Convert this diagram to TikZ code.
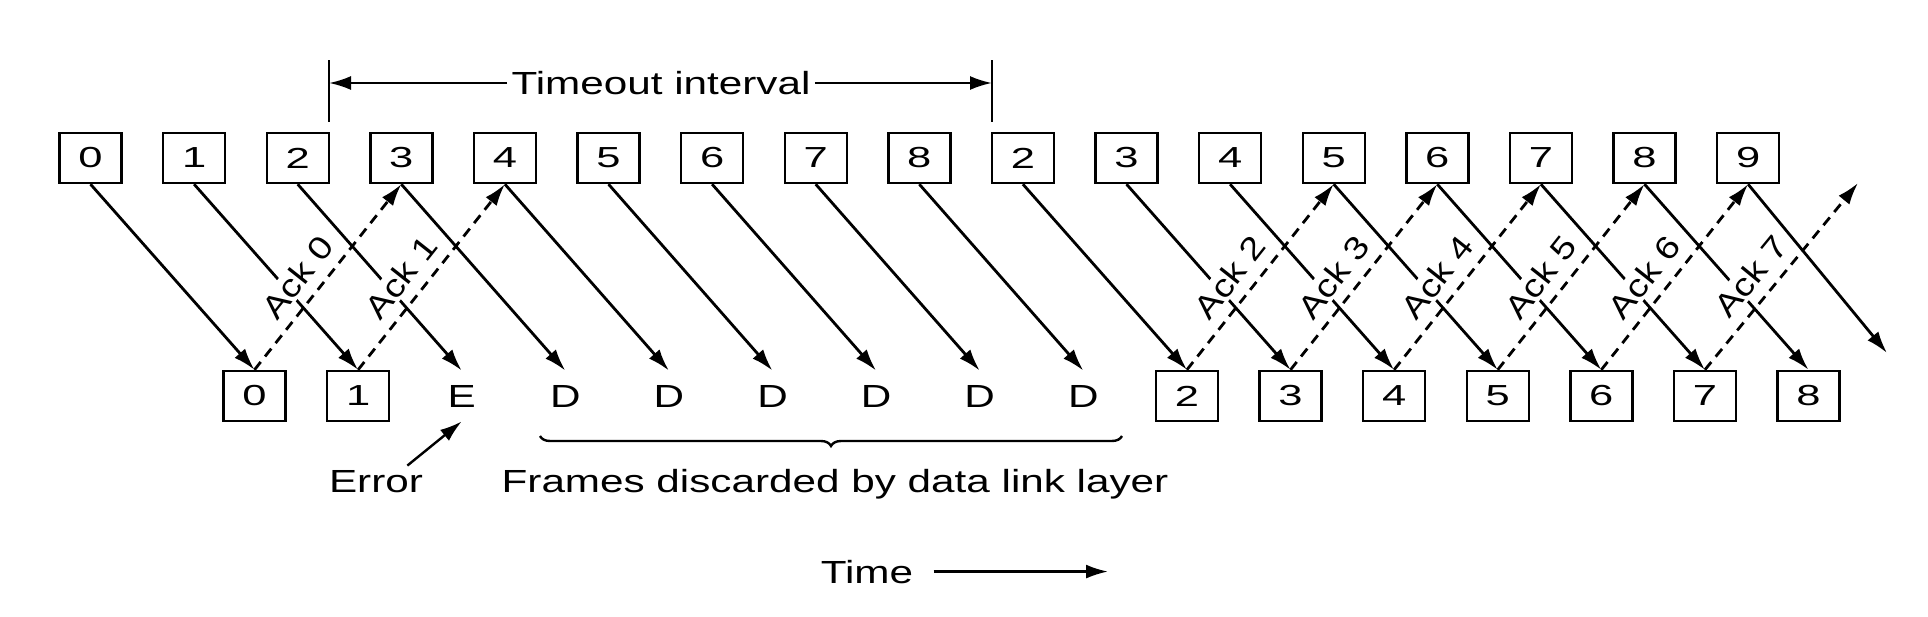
\documentclass[tikz,border=0pt]{standalone}
\usepackage{fontspec}
\setmainfont{Liberation Sans}
\newfontfamily\lblfont[FakeStretch=1.32]{Liberation Sans}
\newfontfamily\digfont[FakeStretch=1.5]{Liberation Sans}
\newfontfamily\ackfont[FakeStretch=1.18]{Liberation Sans}
\usetikzlibrary{arrows.meta,decorations.pathreplacing}
\begin{document}
\begin{tikzpicture}[x=0.5pt,y=-0.5pt,
  frame/.style={draw, line width=1.2pt, minimum width=31pt, minimum height=25pt, inner sep=0pt,
    font=\digfont\fontsize{14.5pt}{14.5pt}\selectfont},
  ghost/.style={minimum width=31pt, minimum height=25pt, inner sep=0pt,
    font=\lblfont\fontsize{16pt}{16pt}\selectfont},
  lbl/.style={font=\lblfont\fontsize{16pt}{16pt}\selectfont, inner sep=2pt},
  tip/.style={-{Latex[length=11pt,width=7pt]}},
  data/.style={line width=1.4pt, tip},
  ack/.style={data, dash pattern=on 5pt off 3.5pt},
  acklbl/.style={sloped, pos=0.42, yshift=12pt, fill=white, inner sep=1pt, solid,
    font=\ackfont\fontsize{16pt}{16pt}\selectfont},
  bar/.style={line width=1.2pt},
]
\useasboundingbox (0,0) rectangle (1928,616);

% top row (sender)
\foreach \l [count=\i from 0] in {0,1,2,3,4,5,6,7,8,2,3,4,5,6,7,8,9}
  \node[frame] (t\i) at ({90.5+103.6*\i},158) {\l};

% bottom row (receiver)
\foreach \l/\s [count=\i from 0] in {0/frame,1/frame,E/ghost,D/ghost,D/ghost,D/ghost,D/ghost,D/ghost,D/ghost,2/frame,3/frame,4/frame,5/frame,6/frame,7/frame,8/frame}
  \node[\s] (b\i) at ({254.5+103.6*\i},396) {\l};

% data frames
\foreach \i in {0,...,15}
  \draw[data] (t\i.south) -- (b\i.north);
\coordinate (dend) at (1887,353);
\draw[data] (t16.south) -- (dend);

% acknowledgements
\foreach \b/\t/\a in {0/3/0,1/4/1,9/12/2,10/13/3,11/14/4,12/15/5,13/16/6}
  \draw[ack] (b\b.north) -- (t\t.south) node[acklbl] {Ack \a};
\coordinate (aend) at (1858,183);
\draw[ack] (b14.north) -- (aend) node[acklbl] {Ack 7};

% timeout interval
\coordinate (lb1) at (329,60);
\coordinate (lb2) at (329,122);
\coordinate (rb1) at (992,60);
\coordinate (rb2) at (992,122);
\draw[bar] (lb1) -- (lb2);
\draw[bar] (rb1) -- (rb2);
\node[lbl] (to) at (661,83) {Timeout interval};
\draw[bar, tip] (to.west) -- (lb1 |- to.west);
\draw[bar, tip] (to.east) -- (rb1 |- to.east);

% error
\node[lbl, anchor=base] (err) at (376,492) {Error};
\draw[bar, tip] ([xshift=-10pt]err.north east) -- (b2.south);

% discarded frames
\coordinate (br1) at (540,436);
\coordinate (br2) at (1122,436);
\draw[bar, decorate, decoration={brace, mirror, amplitude=5pt}] (br1) -- (br2);
\node[lbl, anchor=base] (fr) at (835,492) {Frames discarded by data link layer};

% time
\node[lbl, anchor=base] (tm) at (867,583) {Time};
\coordinate (tend) at (1108,573);
\draw[bar, tip] ([xshift=8pt]tm.east) -- (tend |- tm.east);
\end{tikzpicture}
\end{document}
